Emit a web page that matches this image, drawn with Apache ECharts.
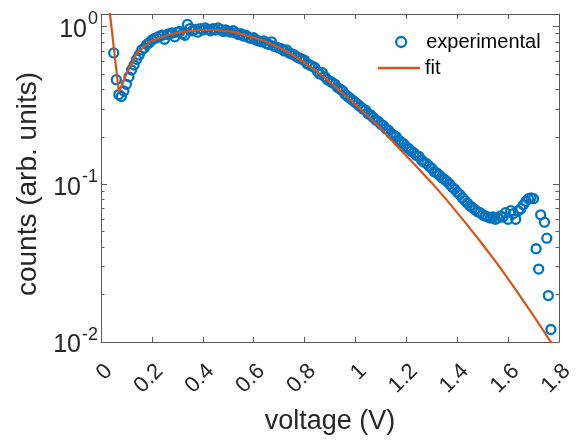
<!DOCTYPE html>
<html>
<head>
<meta charset="utf-8">
<style>
  html, body { margin: 0; padding: 0; background: #ffffff; }
  #chart { width: 576px; height: 441px; }
</style>
<script src="https://cdn.jsdelivr.net/npm/echarts@6/dist/echarts.min.js"></script>
</head>
<body>
<div id="chart"></div>
<script>
// ---- data ----
const expVoltage = [
  0.05, 0.06, 0.07, 0.08, 0.09, 0.10, 0.11, 0.12, 0.13, 0.14,
  0.15, 0.16, 0.17, 0.18, 0.19, 0.20, 0.21, 0.22, 0.23, 0.24,
  0.25, 0.26, 0.27, 0.28, 0.29, 0.30, 0.31, 0.32, 0.33, 0.34,
  0.35, 0.36, 0.37, 0.38, 0.39, 0.40, 0.41, 0.42, 0.43, 0.44,
  0.45, 0.46, 0.47, 0.48, 0.49, 0.50, 0.51, 0.52, 0.53, 0.54,
  0.55, 0.56, 0.57, 0.58, 0.59, 0.60, 0.61, 0.62, 0.63, 0.64,
  0.65, 0.66, 0.67, 0.68, 0.69, 0.70, 0.71, 0.72, 0.73, 0.74,
  0.75, 0.76, 0.77, 0.78, 0.79, 0.80, 0.81, 0.82, 0.83, 0.84,
  0.85, 0.86, 0.87, 0.88, 0.89, 0.90, 0.91, 0.92, 0.93, 0.94,
  0.95, 0.96, 0.97, 0.98, 0.99, 1.00, 1.01, 1.02, 1.03, 1.04,
  1.05, 1.06, 1.07, 1.08, 1.09, 1.10, 1.11, 1.12, 1.13, 1.14,
  1.15, 1.16, 1.17, 1.18, 1.19, 1.20, 1.21, 1.22, 1.23, 1.24,
  1.25, 1.26, 1.27, 1.28, 1.29, 1.30, 1.31, 1.32, 1.33, 1.34,
  1.35, 1.36, 1.37, 1.38, 1.39, 1.40, 1.41, 1.42, 1.43, 1.44,
  1.45, 1.46, 1.47, 1.48, 1.49, 1.50, 1.51, 1.52, 1.53, 1.54,
  1.55, 1.56, 1.57, 1.58, 1.59, 1.60, 1.61, 1.62, 1.63, 1.64,
  1.65, 1.66, 1.67, 1.68, 1.69, 1.70,
  1.710, 1.720, 1.728, 1.743, 1.752, 1.758, 1.768
];
const expCounts = [
  0.68, 0.46, 0.37, 0.36, 0.39, 0.43, 0.48, 0.53, 0.57, 0.62,
  0.66, 0.71, 0.73, 0.77, 0.79, 0.82, 0.84, 0.85, 0.87, 0.88,
  0.83, 0.89, 0.90, 0.91, 0.86, 0.92, 0.93, 0.90, 0.88, 1.03,
  0.97, 0.94, 0.96, 0.92, 0.97, 0.95, 0.98, 0.96, 0.94, 0.97,
  0.95, 0.98, 0.96, 0.93, 0.95, 0.93, 0.92, 0.94, 0.91, 0.89,
  0.90, 0.87, 0.88, 0.85, 0.84, 0.85, 0.82, 0.81, 0.80, 0.81,
  0.78, 0.77, 0.80, 0.75, 0.74, 0.73, 0.72, 0.70, 0.71, 0.68,
  0.67, 0.66, 0.64, 0.63, 0.62, 0.61, 0.58, 0.57, 0.56, 0.55,
  0.52, 0.50, 0.51, 0.48, 0.46, 0.45, 0.44, 0.43, 0.41, 0.40,
  0.39, 0.37, 0.36, 0.35, 0.34, 0.33, 0.32, 0.31, 0.30, 0.295,
  0.28, 0.275, 0.265, 0.255, 0.25, 0.24, 0.235, 0.225, 0.22, 0.21,
  0.205, 0.20, 0.19, 0.185, 0.18, 0.172, 0.168, 0.162, 0.158, 0.152,
  0.15, 0.142, 0.138, 0.135, 0.13, 0.126, 0.12, 0.118, 0.114, 0.11,
  0.107, 0.104, 0.10, 0.096, 0.093, 0.089, 0.086, 0.082, 0.079, 0.076,
  0.073, 0.071, 0.069, 0.067, 0.066, 0.064, 0.063, 0.062, 0.061, 0.062,
  0.060, 0.061, 0.063, 0.062, 0.066, 0.060, 0.068, 0.065, 0.060, 0.068,
  0.070, 0.074, 0.078, 0.081, 0.082, 0.081,
  0.039, 0.029, 0.064, 0.0575, 0.0455, 0.0197, 0.012
];
const fitVoltage = [
  0.03, 0.05, 0.07, 0.10, 0.14, 0.19, 0.26, 0.32, 0.39, 0.45,
  0.52, 0.60, 0.65, 0.72, 0.78, 0.85, 0.91, 0.98, 1.05, 1.10,
  1.17, 1.23, 1.30, 1.36, 1.44, 1.50, 1.56, 1.62, 1.70, 1.775
];
const fitCounts = [
  1.43, 0.74, 0.385, 0.50, 0.675, 0.80, 0.88, 0.925, 0.95, 0.95,
  0.925, 0.85, 0.80, 0.71, 0.62, 0.515, 0.43, 0.342, 0.27, 0.226,
  0.17, 0.135, 0.102, 0.079, 0.0551, 0.0415, 0.0309, 0.0226, 0.01467, 0.0096
];
const xTicks = [0, 0.2, 0.4, 0.6, 0.8, 1, 1.2, 1.4, 1.6, 1.8];
const yMajorTicks = [0.01, 0.1, 1];
const yMinorTicks = [0.02, 0.03, 0.04, 0.05, 0.06, 0.07, 0.08, 0.09,
                     0.2, 0.3, 0.4, 0.5, 0.6, 0.7, 0.8, 0.9];

// ---- styles ----
const FONT = '"Liberation Sans", Arial, Helvetica, sans-serif';
const AXIS_COLOR = '#5a5a5a';
const TEXT_COLOR = '#262626';
const BLUE = '#0072BD';
const ORANGE = '#D95319';

const chart = echarts.init(document.getElementById('chart'), null, { renderer: 'canvas' });

function logLabel(v) {
  const e = Math.round(Math.log10(v));
  if (Math.abs(Math.log10(v) - e) > 1e-6) return '';
  return '{b|10}{s|' + e + '}';
}

const baseX = {
  type: 'value', min: 0, max: 1.8, interval: 0.2,
  axisLine: { show: true, onZero: false, lineStyle: { color: AXIS_COLOR, width: 1 } },
  axisTick: { show: true, inside: true, length: 5, lineStyle: { color: AXIS_COLOR } },
  splitLine: { show: false }
};
const baseY = {
  type: 'log', logBase: 10, min: 0.01, max: 1.2,
  splitLine: { show: false },
  minorTick: { show: false }
};

const option = {
  animation: false,
  backgroundColor: '#ffffff',
  textStyle: { fontFamily: FONT },
  grid: { left: 101, right: 17, top: 14, bottom: 99, containLabel: false, outerBoundsMode: 'none' },
  xAxis: [
    Object.assign({}, baseX, {
      position: 'bottom',
      name: 'voltage (V)',
      nameLocation: 'middle',
      nameGap: 66,
      nameTextStyle: { fontSize: 27, color: TEXT_COLOR, fontFamily: FONT },
      axisTick: { show: true, inside: true, length: 5, lineStyle: { color: AXIS_COLOR }, customValues: xTicks },
      axisLabel: {
        show: true, rotate: 45, margin: 18, fontSize: 22, color: TEXT_COLOR,
        fontFamily: FONT, verticalAlign: 'top', customValues: xTicks,
        formatter: function (v) { return String(Math.round(v * 10) / 10); }
      }
    }),
    Object.assign({}, baseX, {
      position: 'top',
      axisTick: { show: true, inside: true, length: 5, lineStyle: { color: AXIS_COLOR }, customValues: xTicks },
      axisLabel: { show: false }
    })
  ],
  yAxis: [
    Object.assign({}, baseY, {
      position: 'left',
      name: 'counts (arb. units)',
      nameLocation: 'middle',
      nameGap: 57,
      nameRotate: 90,
      nameTextStyle: { fontSize: 28, color: TEXT_COLOR, fontFamily: FONT, padding: [0, 12, 0, 0] },
      axisLine: { show: true, lineStyle: { color: AXIS_COLOR, width: 1 } },
      axisTick: { show: true, inside: true, length: 6, lineStyle: { color: AXIS_COLOR }, customValues: yMajorTicks },
      axisLabel: {
        show: true, margin: 3, color: TEXT_COLOR, fontFamily: FONT,
        customValues: yMajorTicks,
        formatter: logLabel,
        rich: {
          b: { fontSize: 25, color: TEXT_COLOR, fontFamily: FONT, verticalAlign: 'bottom' },
          s: { fontSize: 18, color: TEXT_COLOR, fontFamily: FONT, verticalAlign: 'top', padding: [0, 0, 14, 1] }
        }
      }
    }),
    Object.assign({}, baseY, {
      position: 'left',
      axisLine: { show: false },
      axisTick: { show: true, inside: true, length: 3.5, lineStyle: { color: AXIS_COLOR }, customValues: yMinorTicks },
      axisLabel: { show: false }
    }),
    Object.assign({}, baseY, {
      position: 'right',
      axisLine: { show: true, lineStyle: { color: AXIS_COLOR, width: 1 } },
      axisTick: { show: true, inside: true, length: 6, lineStyle: { color: AXIS_COLOR }, customValues: yMajorTicks },
      axisLabel: { show: false }
    }),
    Object.assign({}, baseY, {
      position: 'right',
      axisLine: { show: false },
      axisTick: { show: true, inside: true, length: 3.5, lineStyle: { color: AXIS_COLOR }, customValues: yMinorTicks },
      axisLabel: { show: false }
    })
  ],
  legend: [
    {
      data: [{ name: 'experimental', icon: 'circle' }],
      left: 395, top: 32, padding: 0,
      itemWidth: 10, itemHeight: 10,
      itemStyle: { color: 'rgba(0,0,0,0)', borderColor: BLUE, borderWidth: 2.3 },
      textStyle: { fontSize: 20, color: '#000000', fontFamily: FONT, padding: [0, 0, 0, 15], lineHeight: 20 }
    },
    {
      data: [{ name: 'fit', icon: 'rect' }],
      left: 378, top: 58, padding: 0,
      itemWidth: 42, itemHeight: 2.4,
      itemStyle: { color: ORANGE, borderWidth: 0 },
      textStyle: { fontSize: 20, color: '#000000', fontFamily: FONT, lineHeight: 20 }
    }
  ],
  series: [
    {
      name: 'experimental',
      type: 'scatter',
      xAxisIndex: 0, yAxisIndex: 0,
      symbol: 'circle',
      symbolSize: 9,
      itemStyle: { color: 'rgba(0,0,0,0)', borderColor: BLUE, borderWidth: 2.3, opacity: 1 },
      data: expVoltage.map((v, i) => [v, expCounts[i]]),
      z: 2
    },
    {
      name: 'fit',
      type: 'line',
      xAxisIndex: 0, yAxisIndex: 0,
      symbol: 'none',
      showSymbol: false,
      clip: true,
      lineStyle: { color: ORANGE, width: 2.2 },
      itemStyle: { color: ORANGE },
      data: fitVoltage.map((v, i) => [v, fitCounts[i]]),
      z: 3
    }
  ]
};
chart.setOption(option);
</script>
</body>
</html>
